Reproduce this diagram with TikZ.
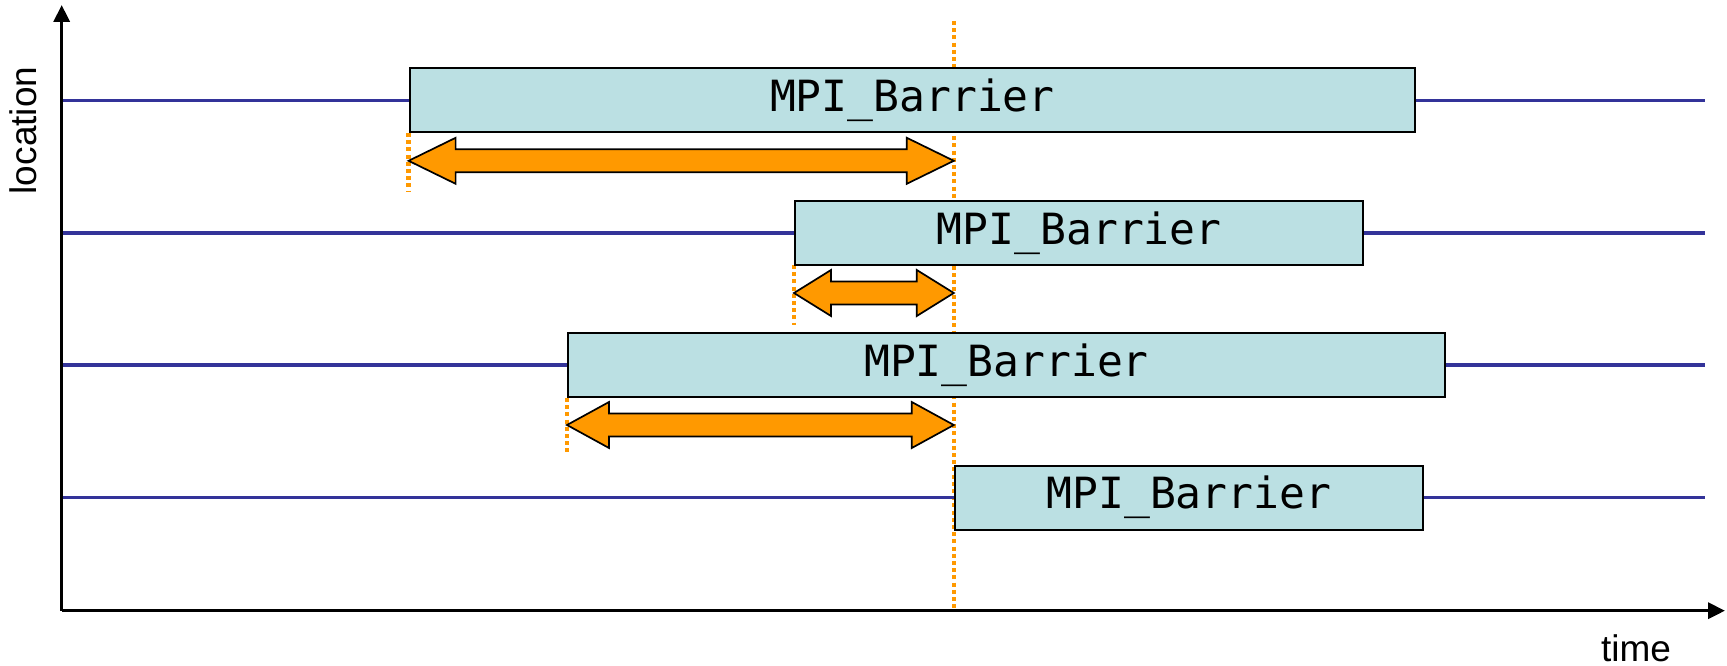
\documentclass[tikz,border=0pt]{standalone}
\usepackage{fontspec}
\setmainfont{Liberation Sans}
\newfontfamily\monof{DejaVu Sans Mono}
\usetikzlibrary{arrows.meta}
\definecolor{tlblue}{HTML}{333399}
\definecolor{boxfill}{HTML}{BBE0E3}
\definecolor{tlorange}{HTML}{FF9900}
\tikzset{
  axisline/.style={line width=3.4pt, -{Triangle[length=17pt,width=16pt]}},
  tline/.style={draw=tlblue, line width=3.6pt},
  barrier/.style={draw=black, line width=2pt, fill=boxfill, inner sep=0pt, anchor=west,
     minimum height=64pt, font=\monof\fontsize{43}{50}\selectfont},
  dotline/.style={draw=tlorange, line width=4.5pt, dash pattern=on 4pt off 3.2pt},
  dblarrow/.style={draw=black, line width=1.7pt, fill=tlorange, line join=miter},
  axlabel/.style={font=\fontsize{37}{44}\selectfont, inner sep=0pt}
}
\newcommand{\dblarr}[4]{% x1, x2, y, head length
  \draw[dblarrow] (#1,#3) -- ({#1+#4},{#3-23}) -- ({#1+#4},{#3-11.5}) -- ({#2-#4},{#3-11.5})
    -- ({#2-#4},{#3-23}) -- (#2,#3) -- ({#2-#4},{#3+23}) -- ({#2-#4},{#3+11.5})
    -- ({#1+#4},{#3+11.5}) -- ({#1+#4},{#3+23}) -- cycle;}
\begin{document}
\begin{tikzpicture}[x=1pt,y=-1pt]
\useasboundingbox (0,0) rectangle (1727,666);
% axes
\coordinate (origin) at (61.7,610.7);
\coordinate (ytop) at (61.7,5);
\coordinate (xend) at (1725,610.7);
\draw[axisline] (origin) -- (ytop);
\draw[axisline] (origin) -- (xend);
\node[axlabel, rotate=90, anchor=base] (loc) at (36,130.5) {location};
\node[axlabel, anchor=base] (time) at (1636,661.5) {time};
% global dotted line
\coordinate (dtop) at (953.8,21);
\coordinate (dbot) at (953.8,611);
\draw[dotline] (dtop) -- (dbot);
% short dotted lines
\coordinate (d1a) at (408.6,133); \coordinate (d1b) at (408.6,191);
\coordinate (d2a) at (794,265); \coordinate (d2b) at (794,325);
\coordinate (d3a) at (567,398); \coordinate (d3b) at (567,455);
\draw[dotline] (d1a) -- (d1b);
\draw[dotline] (d2a) -- (d2b);
\draw[dotline] (d3a) -- (d3b);
% time lines start/end
\coordinate (s1) at (63,100.5); \coordinate (e1) at (1705,100.5);
\coordinate (s2) at (63,232.8); \coordinate (e2) at (1705,232.8);
\coordinate (s3) at (63,365); \coordinate (e3) at (1705,365);
\coordinate (s4) at (63,497.5); \coordinate (e4) at (1705,497.5);
% boxes
\node[barrier, minimum width=1005.6pt] (b1) at (408.6,100.5) {MPI\_Barrier};
\node[barrier, minimum width=568.4pt] (b2) at (794,232.8) {MPI\_Barrier};
\node[barrier, minimum width=877pt] (b3) at (567,365) {MPI\_Barrier};
\node[barrier, minimum width=468.2pt] (b4) at (953.8,497.5) {MPI\_Barrier};
\draw[tline] (s1) -- (b1.west); \draw[tline] (b1.east) -- (e1);
\draw[tline] (s2) -- (b2.west); \draw[tline] (b2.east) -- (e2);
\draw[tline] (s3) -- (b3.west); \draw[tline] (b3.east) -- (e3);
\draw[tline] (s4) -- (b4.west); \draw[tline] (b4.east) -- (e4);
% wait arrows
\dblarr{408.6}{953.8}{160.8}{47}
\dblarr{794}{953.8}{293}{37}
\dblarr{567}{953.8}{425}{42}
\end{tikzpicture}
\end{document}
